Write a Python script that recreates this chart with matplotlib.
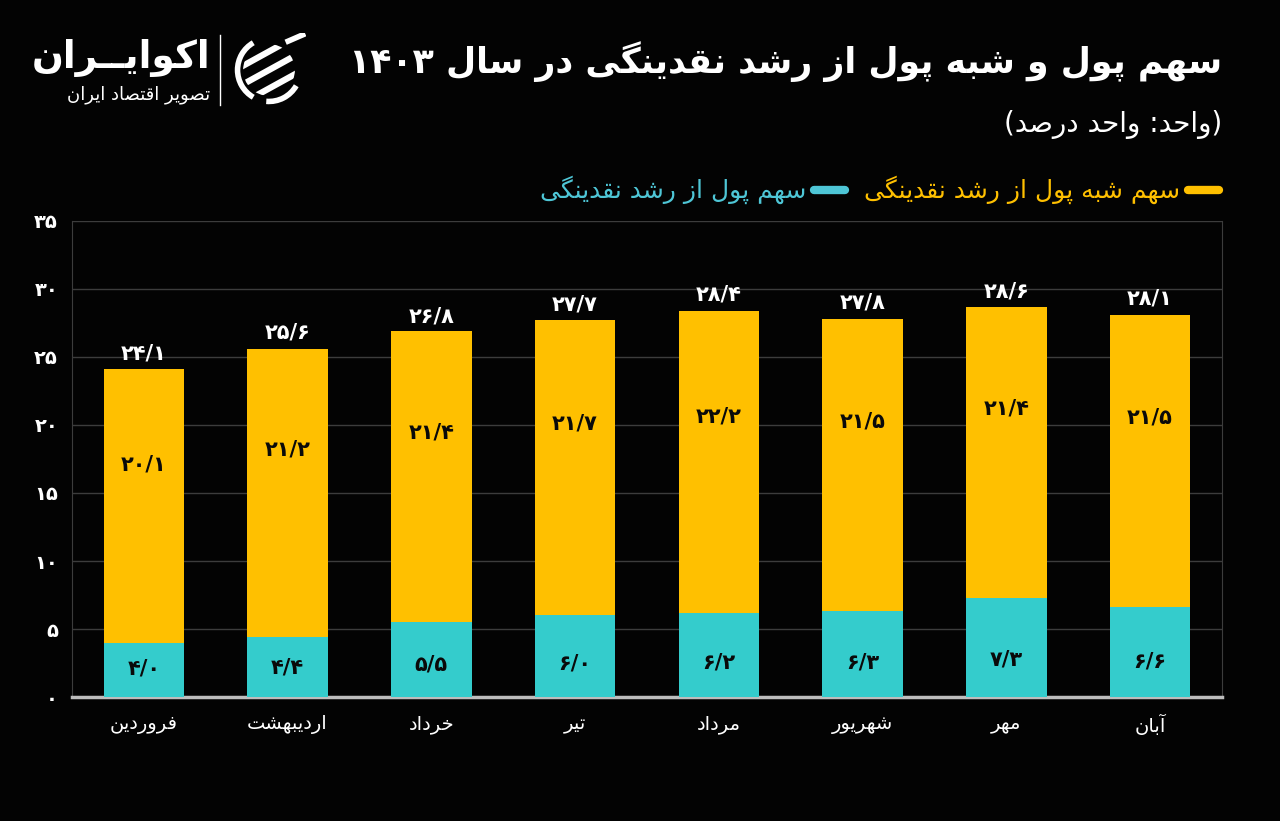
import numpy as np
import matplotlib
matplotlib.use("Agg")
import matplotlib.pyplot as plt
from matplotlib.patches import Circle, Arc

# data (درصد)
months = ["فروردین", "اردیبهشت", "خرداد", "تیر", "مرداد", "شهریور", "مهر", "آبان"]
money = [4.0, 4.4, 5.5, 6.0, 6.2, 6.3, 7.3, 6.6]          # سهم پول
quasi = [20.1, 21.2, 21.4, 21.7, 22.2, 21.5, 21.4, 21.5]  # سهم شبه پول
totals = [24.1, 25.6, 26.8, 27.7, 28.4, 27.8, 28.6, 28.1]
yticks = [0, 5, 10, 15, 20, 25, 30, 35]

title = "سهم پول و شبه پول از رشد نقدینگی در سال ۱۴۰۳"
subtitle = "(واحد: واحد درصد)"
leg_quasi = "سهم شبه پول از رشد نقدینگی"
leg_money = "سهم پول از رشد نقدینگی"

YELLOW = "#FFC000"
TEAL = "#34CCCC"
TEAL_TXT = "#4EC6D6"
BG = "#030303"

# --- simple arabic/persian shaping (matplotlib does no text shaping) ---
# isolated, final, initial, medial
FORMS = {
    "\u0627": ("\uFE8D", "\uFE8E", None, None),
    "\u0622": ("\uFE81", "\uFE82", None, None),
    "\u0628": ("\uFE8F", "\uFE90", "\uFE91", "\uFE92"),
    "\u067E": ("\uFB56", "\uFB57", "\uFB58", "\uFB59"),
    "\u062A": ("\uFE95", "\uFE96", "\uFE97", "\uFE98"),
    "\u062B": ("\uFE99", "\uFE9A", "\uFE9B", "\uFE9C"),
    "\u062C": ("\uFE9D", "\uFE9E", "\uFE9F", "\uFEA0"),
    "\u0686": ("\uFB7A", "\uFB7B", "\uFB7C", "\uFB7D"),
    "\u062D": ("\uFEA1", "\uFEA2", "\uFEA3", "\uFEA4"),
    "\u062E": ("\uFEA5", "\uFEA6", "\uFEA7", "\uFEA8"),
    "\u062F": ("\uFEA9", "\uFEAA", None, None),
    "\u0630": ("\uFEAB", "\uFEAC", None, None),
    "\u0631": ("\uFEAD", "\uFEAE", None, None),
    "\u0632": ("\uFEAF", "\uFEB0", None, None),
    "\u0698": ("\uFB8A", "\uFB8B", None, None),
    "\u0633": ("\uFEB1", "\uFEB2", "\uFEB3", "\uFEB4"),
    "\u0634": ("\uFEB5", "\uFEB6", "\uFEB7", "\uFEB8"),
    "\u0635": ("\uFEB9", "\uFEBA", "\uFEBB", "\uFEBC"),
    "\u0636": ("\uFEBD", "\uFEBE", "\uFEBF", "\uFEC0"),
    "\u0637": ("\uFEC1", "\uFEC2", "\uFEC3", "\uFEC4"),
    "\u0638": ("\uFEC5", "\uFEC6", "\uFEC7", "\uFEC8"),
    "\u0639": ("\uFEC9", "\uFECA", "\uFECB", "\uFECC"),
    "\u063A": ("\uFECD", "\uFECE", "\uFECF", "\uFED0"),
    "\u0641": ("\uFED1", "\uFED2", "\uFED3", "\uFED4"),
    "\u0642": ("\uFED5", "\uFED6", "\uFED7", "\uFED8"),
    "\u06A9": ("\uFB8E", "\uFB8F", "\uFB90", "\uFB91"),
    "\u06AF": ("\uFB92", "\uFB93", "\uFB94", "\uFB95"),
    "\u0644": ("\uFEDD", "\uFEDE", "\uFEDF", "\uFEE0"),
    "\u0645": ("\uFEE1", "\uFEE2", "\uFEE3", "\uFEE4"),
    "\u0646": ("\uFEE5", "\uFEE6", "\uFEE7", "\uFEE8"),
    "\u0647": ("\uFEE9", "\uFEEA", "\uFEEB", "\uFEEC"),
    "\u0648": ("\uFEED", "\uFEEE", None, None),
    "\u06CC": ("\uFBFC", "\uFBFD", "\uFBFE", "\uFBFF"),
    "\u0640": ("\u0640", "\u0640", "\u0640", "\u0640"),
}
LAM_ALEF = {"\u0627": ("\uFEFB", "\uFEFC"), "\u0622": ("\uFEF5", "\uFEF6")}
LTR = set("۰۱۲۳۴۵۶۷۸۹0123456789/.")


def fa(text):
    chars = list(text)
    out = []
    i = 0
    n = len(chars)
    while i < n:
        c = chars[i]
        if c not in FORMS:
            out.append(c)
            i += 1
            continue
        prev = chars[i - 1] if i > 0 else None
        jp = prev in FORMS and FORMS[prev][2] is not None
        if c == "\u0644" and i + 1 < n and chars[i + 1] in LAM_ALEF:
            out.append(LAM_ALEF[chars[i + 1]][1 if jp else 0])
            i += 2
            continue
        nxt = chars[i + 1] if i + 1 < n else None
        jn = nxt in FORMS and FORMS[c][2] is not None
        iso, fin, ini, med = FORMS[c]
        if jp and jn:
            out.append(med)
        elif jp:
            out.append(fin)
        elif jn:
            out.append(ini)
        else:
            out.append(iso)
        i += 1
    out = out[::-1]
    # keep digit runs left-to-right, mirror brackets
    res = []
    run = []
    for c in out:
        if c in LTR:
            run.append(c)
        else:
            res.extend(run[::-1])
            run = []
            res.append({"(": ")", ")": "("}.get(c, c))
    res.extend(run[::-1])
    return "".join(res)


def num(v):
    s = ("%g" % v) if v != int(v) or isinstance(v, int) else "%.1f" % v
    return s.replace(".", "/").translate(str.maketrans("0123456789", "۰۱۲۳۴۵۶۷۸۹"))


plt.rcParams["font.family"] = ["DejaVu Sans"]

fig = plt.figure(figsize=(12.8, 8.21), dpi=100, facecolor=BG)
ax = fig.add_axes([0.05625, 0.151, 0.8984, 0.5799])
ax.set_facecolor(BG)

x = np.arange(len(months))
w = 0.56
ax.bar(x, money, width=w, color=TEAL, zorder=3)
ax.bar(x, quasi, width=w, bottom=money, color=YELLOW, zorder=3)

for i in range(len(months)):
    ax.text(x[i], money[i] * 0.2 + 1.3, num(money[i]), ha="center", va="center",
            fontsize=15, fontweight="bold", color="#0a0a0a", zorder=4)
    ax.text(x[i], money[i] + quasi[i] * 0.65, num(quasi[i]), ha="center", va="center",
            fontsize=15, fontweight="bold", color="#0a0a0a", zorder=4)
    ax.text(x[i], totals[i] + 0.45, num(totals[i]), ha="center", va="bottom",
            fontsize=15, fontweight="bold", color="white", zorder=4)

ax.set_xlim(-0.5, 7.5)
ax.set_ylim(0, 35)
ax.set_yticks(yticks)
ax.set_yticklabels([num(t) for t in yticks], fontsize=14, fontweight="bold", color="white")
ax.set_xticks(x)
ax.set_xticklabels([fa(m) for m in months], fontsize=14, color="white")
ax.tick_params(length=0, pad=10)
ax.tick_params(axis="x", pad=13)
ax.grid(axis="y", color="#3c3c3c", linewidth=1, zorder=0)
for s in ["left", "right", "top"]:
    ax.spines[s].set_color("#3c3c3c")
ax.spines["top"].set_visible(False)
ax.spines["bottom"].set_color("#bdbdbd")
ax.spines["bottom"].set_linewidth(2.5)

# titles
fig.text(0.955, 0.925, fa(title), ha="right", va="center", fontsize=25,
         fontweight="bold", color="white")
fig.text(0.955, 0.848, fa(subtitle), ha="right", va="center", fontsize=20, color="white")

# legend
ly = 1 - 190 / 821
fig.add_artist(plt.Line2D([1188 / 1280, 1219 / 1280], [ly, ly], color=YELLOW,
                          linewidth=6, solid_capstyle="round"))
fig.text(1180 / 1280, ly, fa(leg_quasi), ha="right", va="center", fontsize=18, color=YELLOW)
fig.add_artist(plt.Line2D([814 / 1280, 845 / 1280], [ly, ly], color=TEAL_TXT,
                          linewidth=6, solid_capstyle="round"))
fig.text(806 / 1280, ly, fa(leg_money), ha="right", va="center", fontsize=18, color=TEAL_TXT)

# logo
fig.text(210 / 1280, 1 - 58 / 821, fa("اکوایــران"), ha="right", va="center",
         fontsize=27, fontweight="bold", color="white")
fig.text(210 / 1280, 1 - 95 / 821, fa("تصویر اقتصاد ایران"), ha="right", va="center",
         fontsize=13, color="white")
fig.add_artist(plt.Line2D([220 / 1280, 220 / 1280], [1 - 35 / 821, 1 - 105 / 821],
                          color="white", linewidth=1))
lax = fig.add_axes([232 / 1280, 1 - 107 / 821, 74 / 1280, 74 / 821])
lax.set_xlim(-1, 1)
lax.set_ylim(-1, 1)
lax.set_aspect("equal")
lax.axis("off")
lax.add_patch(Arc((0, 0), 1.7, 1.7, theta1=120, theta2=240, color="white", linewidth=4))
lax.add_patch(Arc((0, 0), 1.7, 1.7, theta1=265, theta2=330, color="white", linewidth=4))
clip = Circle((0, 0), 0.7, transform=lax.transData)
for k in [-0.5, 0.0, 0.5]:
    ln, = lax.plot([-1.0, 1.0], [k - 0.55, k + 0.55], color="white", linewidth=4.5,
                   solid_capstyle="butt")
    ln.set_clip_path(clip)
lax.plot([0.45, 0.98], [0.75, 0.98], color="white", linewidth=4, solid_capstyle="butt")

fig.savefig("out.png", dpi=100, facecolor=BG)
